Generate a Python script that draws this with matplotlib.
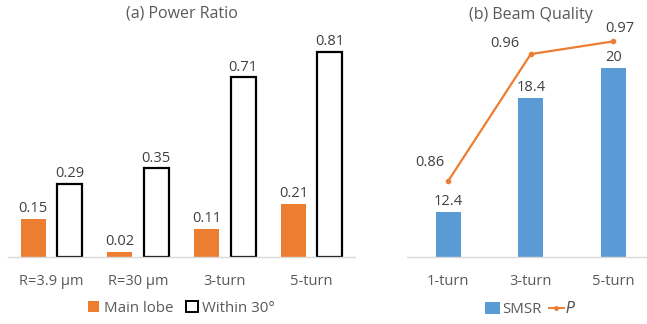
import matplotlib.pyplot as plt
import numpy as np
from matplotlib.lines import Line2D
from matplotlib.patches import Patch

W, H = 647, 324

# (a) Power Ratio
ratio_cats = ["R=3.9 \u03bcm", "R=30 \u03bcm", "3-turn", "5-turn"]
main_lobe = [0.15, 0.02, 0.11, 0.21]
within_30 = [0.29, 0.35, 0.71, 0.81]

# (b) Beam Quality
beam_cats = ["1-turn", "3-turn", "5-turn"]
smsr = [12.4, 18.4, 20]
p_vals = [0.86, 0.96, 0.97]

ORANGE = "#ED7D31"
BLUE = "#5B9BD5"
GREY = "#595959"
TEXT = "#404040"

plt.rcParams["font.family"] = ["Open Sans", "DejaVu Sans"]


def px_axes(fig, x0, x1, y_base, y_top):
    return fig.add_axes([x0 / W, (H - y_base) / H, (x1 - x0) / W, (y_base - y_top) / H])


def style(ax):
    for s in ["top", "left", "right"]:
        ax.spines[s].set_visible(False)
    ax.spines["bottom"].set_color("#D9D9D9")
    ax.spines["bottom"].set_linewidth(1.0)
    ax.set_yticks([])
    ax.tick_params(axis="x", length=0, pad=12, labelsize=10.5, labelcolor=GREY)


fig = plt.figure(figsize=(W / 100, H / 100), dpi=100)

# ---- left panel
ax1 = px_axes(fig, 8, 355, 257, 30)
x = np.arange(len(ratio_cats))
w = 0.29
b1 = ax1.bar(x - 0.21, main_lobe, w, color=ORANGE)
b2 = ax1.bar(x + 0.21, within_30, w, facecolor="white", edgecolor="black", linewidth=1.6)
for bars, vals in [(b1, main_lobe), (b2, within_30)]:
    for r, v in zip(bars, vals):
        ax1.annotate(f"{v:.2f}", (r.get_x() + r.get_width() / 2, v), xytext=(0, 2),
                     textcoords="offset points", ha="center", va="bottom",
                     fontsize=10.5, color=TEXT)
ax1.set_xlim(-0.5, len(ratio_cats) - 0.5)
ax1.set_ylim(0, 0.897)
ax1.set_xticks(x, ratio_cats)
style(ax1)
ax1.set_title("(a) Power Ratio", fontsize=11.5, color=GREY, pad=9)
ax1.legend(handles=[Patch(facecolor=ORANGE, label="Main lobe"),
                    Patch(facecolor="white", edgecolor="black", linewidth=1.4, label="Within 30\u00b0")],
           loc="upper center", bbox_to_anchor=(0.5, -0.135), ncol=2, frameon=False,
           fontsize=10.8, labelcolor=GREY, handlelength=0.75, handleheight=0.75,
           handletextpad=0.3, columnspacing=0.9)

# ---- right panel
ax2 = px_axes(fig, 407, 654.5, 257, 30)
xb = np.arange(len(beam_cats))
bars = ax2.bar(xb, smsr, 0.30, color=BLUE)
for r, v in zip(bars, smsr):
    ax2.annotate(f"{v:g}", (r.get_x() + r.get_width() / 2, v), xytext=(0, 2),
                 textcoords="offset points", ha="center", va="bottom",
                 fontsize=10.5, color=TEXT)
ax2.set_xlim(-0.5, len(beam_cats) - 0.5)
ax2.set_ylim(10, 22)
ax2.set_xticks(xb, beam_cats)
style(ax2)
ax2.set_title("(b) Beam Quality", fontsize=11.5, color=GREY, pad=8)

ax3 = ax2.twinx()
ax3.plot(xb, p_vals, color=ORANGE, lw=1.6, marker="o", ms=3)
ax3.set_ylim(0.8, 0.979)
ax3.set_yticks([])
for s in ax3.spines.values():
    s.set_visible(False)
offsets = [(-3, 8), (-8, 2), (5, 4)]
for xi, v, off in zip(xb, p_vals, offsets):
    ax3.annotate(f"{v:.2f}", (xi, v), xytext=off, textcoords="offset points",
                 ha="right" if off[0] < 0 else "center", va="bottom",
                 fontsize=10.5, color=TEXT)

ax2.legend(handles=[Patch(facecolor=BLUE, label="SMSR"),
                    Line2D([], [], color=ORANGE, marker="o", ms=2.5, lw=1.4, label="$P$")],
           loc="upper center", bbox_to_anchor=(0.5, -0.135), ncol=2, frameon=False,
           fontsize=10.8, labelcolor=GREY, handlelength=1.0, handleheight=0.8,
           handletextpad=0.1, columnspacing=0.5)

fig.savefig("out.png", dpi=100)
